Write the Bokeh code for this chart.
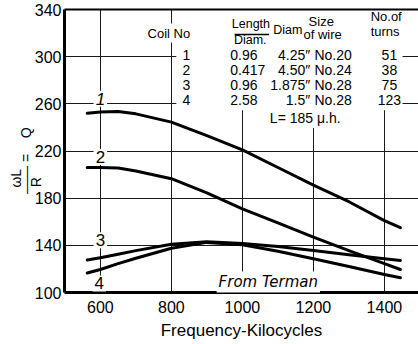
from bokeh.plotting import figure
from bokeh.models import Range1d, FixedTicker, LinearAxis, Label
from bokeh.embed import file_html
from bokeh.resources import INLINE

# ---- data ----
freq = [563, 600, 650, 700, 800, 900, 1000, 1100, 1200, 1300, 1400, 1445]
q_coil1 = [252, 253, 253.5, 251.5, 244.5, 233, 221, 206, 191, 177, 161, 155]
q_coil2 = [206, 206, 205.5, 203, 196.5, 184.5, 171, 159, 147, 135.5, 124.5, 119.5]
q_coil3 = [127.5, 129.5, 132.5, 135.5, 141, 143, 141.5, 139, 135.7, 132, 128.7, 127.2]
q_coil4 = [116.5, 119.5, 124.5, 129, 137.5, 142.5, 140.5, 135, 128.7, 122, 115.3, 112.5]

x_ticks = [600, 800, 1000, 1200, 1400]
y_ticks = [100, 140, 180, 220, 260, 300, 340]

coil_no = ["1", "2", "3", "4"]
length_diam = ["0.96", "0.417", "0.96", "2.58"]
diameter = ["4.25\u2033", "4.50\u2033", "1.875\u2033", "1.5\u2033"]
wire_size = ["No.20", "No.24", "No.28", "No.28"]
turns = ["51", "38", "75", "123"]

FONT = "Liberation Sans"
NB = "\u00a0"

p = figure(width=418, height=344, output_backend="svg", toolbar_location=None,
           x_range=Range1d(499, 1496), y_range=Range1d(100, 340),
           min_border_left=64, min_border_right=0, min_border_top=9, min_border_bottom=52)
p.outline_line_color = None
p.background_fill_color = "white"

# axes
p.xaxis.ticker = FixedTicker(ticks=x_ticks)
p.yaxis.ticker = FixedTicker(ticks=y_ticks)
for ax in (p.xaxis[0], p.yaxis[0]):
    ax.axis_line_width = 3
    ax.axis_line_color = "black"
    ax.major_tick_out = 0
    ax.major_tick_in = 0
    ax.minor_tick_out = 0
    ax.minor_tick_in = 0
    ax.major_label_text_font = FONT
    ax.major_label_text_font_size = "16px"
    ax.major_label_text_color = "black"
    ax.axis_label_text_font = FONT
    ax.axis_label_text_font_style = "normal"
    ax.axis_label_text_color = "black"
p.xaxis.major_label_standoff = 8
p.yaxis.major_label_standoff = 3
p.xaxis.axis_label = "Frequency-Kilocycles"
p.xaxis.axis_label_text_font_size = "17px"
p.xaxis.axis_label_standoff = 5

# y label: fraction (omega L over R) = Q, as a three-line label
p.yaxis.axis_label = ("\u03c9L" + NB * 14 + "\n"
                      + "\u2014\u2014" + NB + "=" + NB * 4 + "Q" + NB * 5 + "\n"
                      + "R" + NB * 16)
p.yaxis.axis_label_text_font_size = "14px"
p.yaxis.axis_label_text_line_height = 0.62
p.yaxis.axis_label_standoff = -12

top_axis = LinearAxis(ticker=FixedTicker(ticks=[]), axis_line_width=2, axis_line_color="black",
                      major_tick_out=0, major_tick_in=0, minor_tick_out=0, minor_tick_in=0,
                      major_label_text_font_size="0px", major_label_standoff=0)
p.add_layout(top_axis, "above")

# grid
p.xgrid.ticker = FixedTicker(ticks=x_ticks)
p.ygrid.ticker = FixedTicker(ticks=y_ticks[1:-1])
for g in (p.xgrid[0], p.ygrid[0]):
    g.grid_line_color = "#1a1a1a"
    g.grid_line_width = 1

# white mask behind the table
p.quad(left=[814], right=[1451], bottom=[254.5], top=[340], fill_color="white", line_color=None)

# curves
for q in (q_coil1, q_coil2, q_coil3, q_coil4):
    p.line(freq, q, line_color="black", line_width=3, line_cap="round", line_join="round")

def lab(text, x, y, size="14px", align="center", style="normal", bg=None, font=FONT, pad=0):
    l = Label(x=x, y=y, text=text, text_font=font, text_font_size=size, text_align=align,
              text_baseline="middle", text_font_style=style, text_color="black",
              background_fill_color=bg, padding=pad)
    p.add_layout(l)

# curve numbers
lab("1", 600, 264.3, "17px", style="italic", bg="white", pad=2)
lab("2", 600, 214.9, "17px", bg="white", pad=2)
lab("3", 600, 144.3, "17px", bg="white", pad=2)
lab("4", 597, 107.7, "17px", bg="white", pad=2)

# table header
lab("Coil No", 793, 320, "13px", bg="white", pad=2)
lab("Length", 1024, 328.1, "12.5px")
p.segment(x0=[978], y0=[318.9], x1=[1075], y1=[318.9], line_color="black", line_width=1.5)
lab("Diam.", 1022, 314.3, "12.5px")
lab("Diam", 1128, 323, "12.5px")
lab("Size", 1222, 329.8, "13px")
lab("of wire", 1226, 318.7, "13px")
lab("No.of", 1405, 334, "13px")
lab("turns", 1402, 321.3, "13px")

row_top, row_step = 301.7, 12.8
for i in range(4):
    y = row_top - row_step * i
    lab(coil_no[i], 842, y)
    lab(length_diam[i], 966, y, align="left")
    lab(diameter[i], 1191, y, align="right")
    lab(wire_size[i], 1203, y, align="left")
    lab(turns[i], 1414, y)

lab("L= 185 \u03bc.h.", 1177, 248, bg="white", pad=2)
lab("From Terman", 1073, 108.5, "15px", style="italic", bg="white", font="DejaVu Sans", pad=2)

open("out.html", "w").write(file_html(p, INLINE))
